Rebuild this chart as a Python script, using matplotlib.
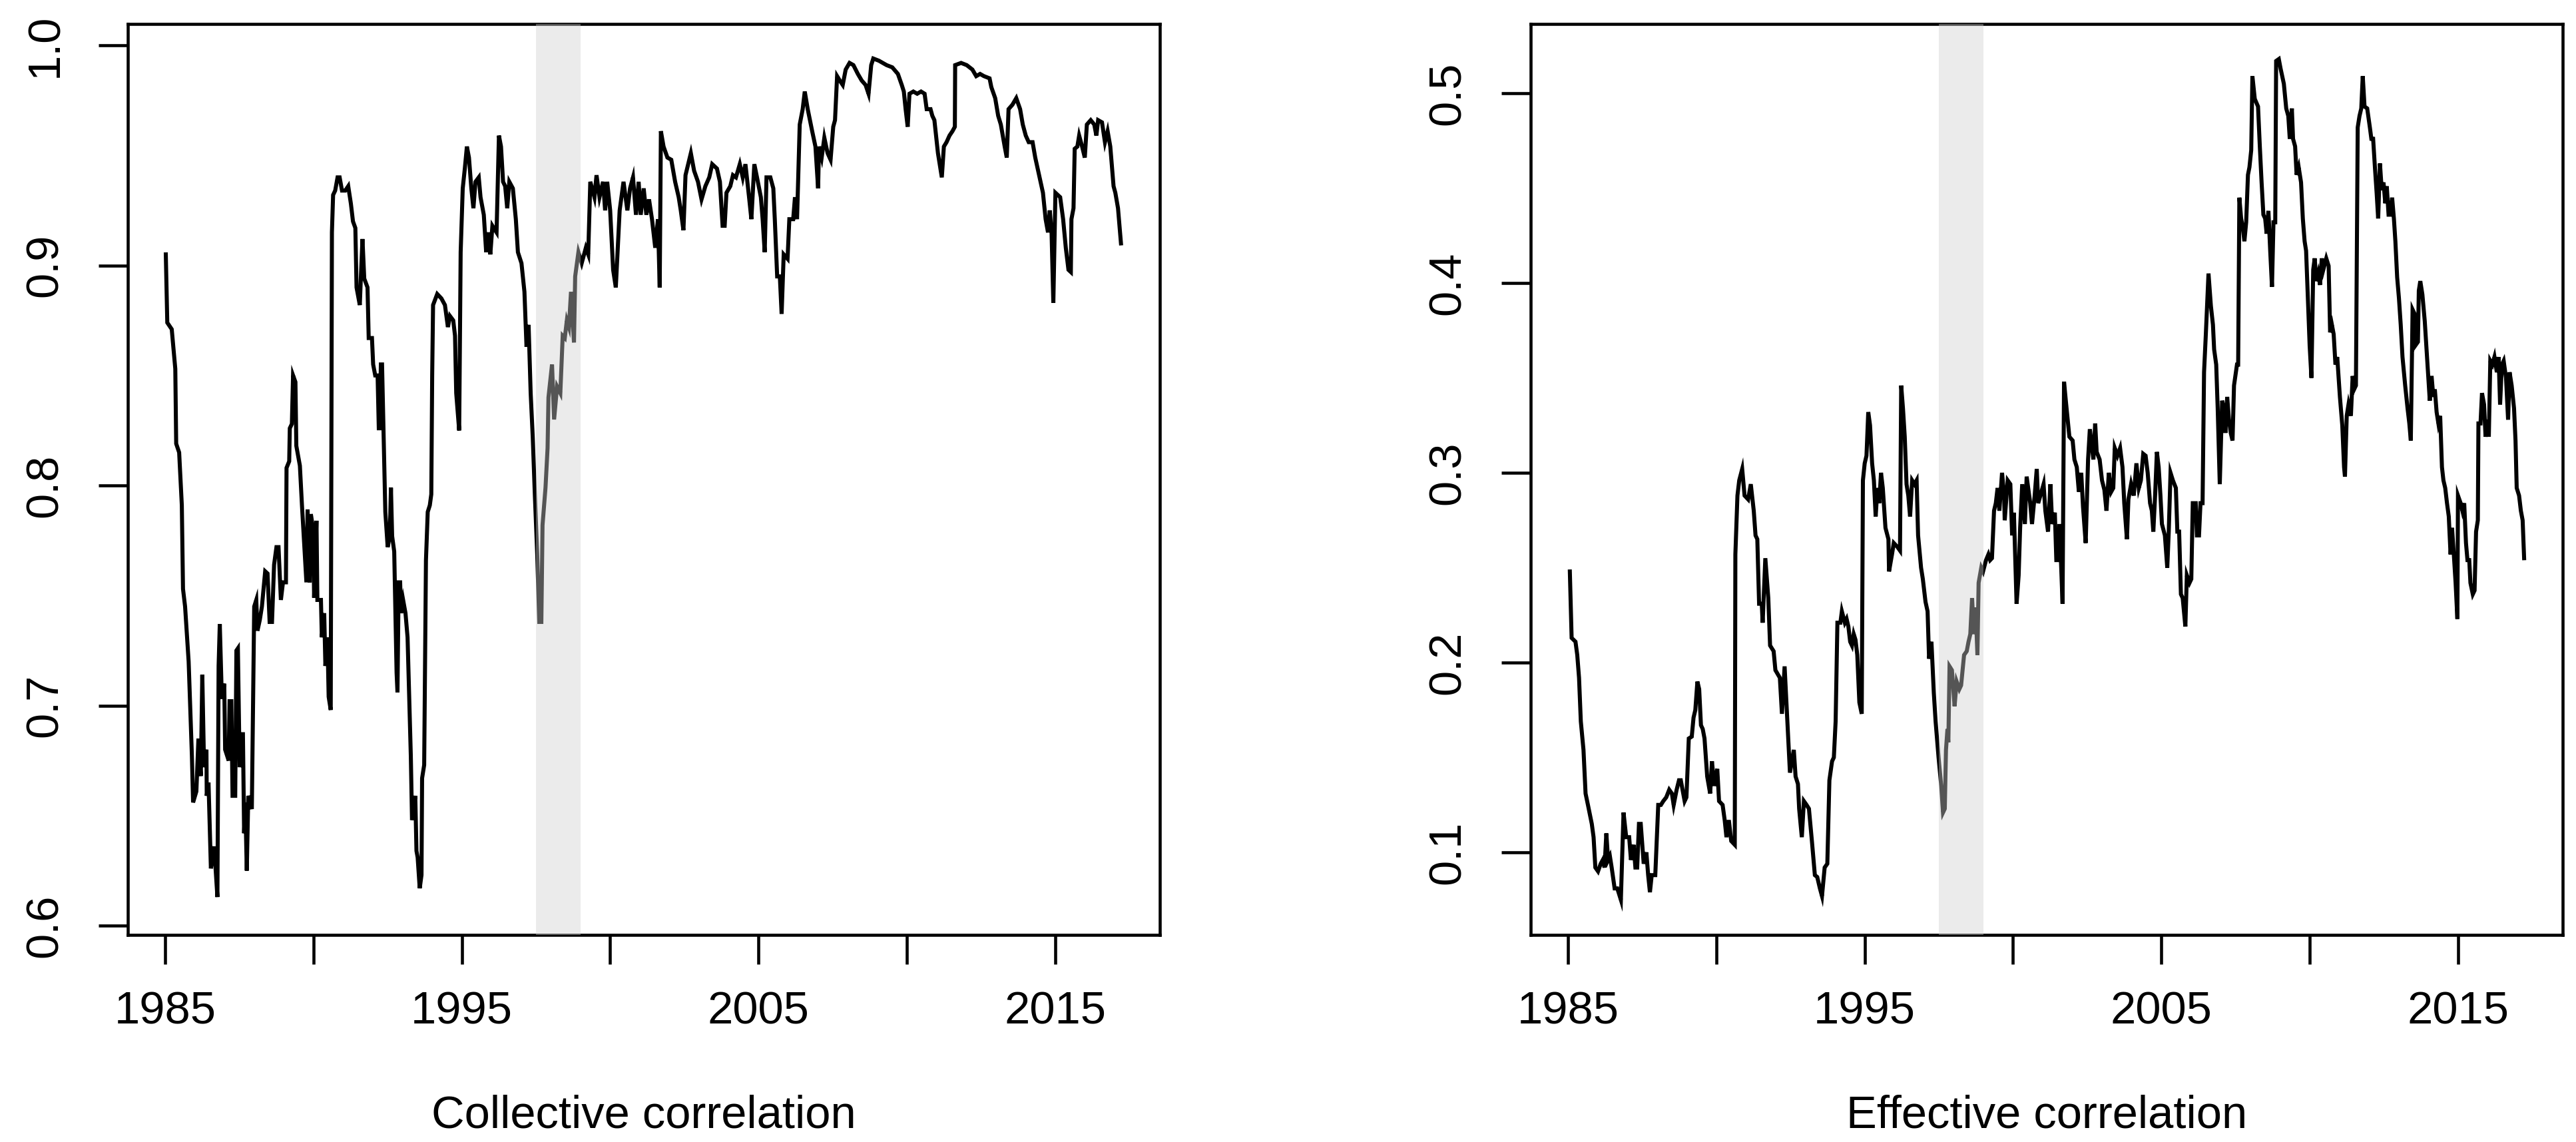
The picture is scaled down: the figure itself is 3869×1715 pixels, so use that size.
import numpy as np
import matplotlib
matplotlib.use("Agg")
import matplotlib.pyplot as plt

plt.rcParams['font.family'] = ['Liberation Sans', 'DejaVu Sans']

# Collective correlation
coll_year = [
    1985.02, 1985.07, 1985.22, 1985.34, 1985.37, 1985.47, 1985.56, 1985.60, 1985.67, 1985.79,
    1985.90, 1985.94, 1986.05, 1986.12, 1986.20, 1986.25, 1986.31, 1986.39, 1986.40, 1986.46,
    1986.54, 1986.65, 1986.76, 1986.80, 1986.84, 1986.91, 1986.99, 1987.02, 1987.14, 1987.17,
    1987.23, 1987.27, 1987.36, 1987.40, 1987.45, 1987.51, 1987.57, 1987.62, 1987.66, 1987.70,
    1987.75, 1987.80, 1987.92, 1988.00, 1988.07, 1988.11, 1988.19, 1988.26, 1988.37, 1988.45,
    1988.52, 1988.60, 1988.67, 1988.75, 1988.82, 1988.90, 1988.97, 1989.07, 1989.09, 1989.18,
    1989.20, 1989.27, 1989.31, 1989.39, 1989.42, 1989.54, 1989.61, 1989.76, 1989.80, 1989.87,
    1989.91, 1989.99, 1990.02, 1990.10, 1990.13, 1990.25, 1990.28, 1990.36, 1990.40, 1990.47,
    1990.51, 1990.58, 1990.62, 1990.66, 1990.73, 1990.81, 1990.88, 1990.96, 1991.07, 1991.17,
    1991.26, 1991.33, 1991.41, 1991.45, 1991.56, 1991.60, 1991.65, 1991.71, 1991.82, 1991.86,
    1991.97, 1992.01, 1992.08, 1992.16, 1992.20, 1992.23, 1992.27, 1992.31, 1992.42, 1992.50,
    1992.57, 1992.61, 1992.65, 1992.72, 1992.80, 1992.83, 1992.87, 1992.92, 1992.95, 1993.02,
    1993.10, 1993.17, 1993.28, 1993.32, 1993.43, 1993.47, 1993.51, 1993.58, 1993.64, 1993.66,
    1993.73, 1993.79, 1993.85, 1993.92, 1993.97, 1994.00, 1994.03, 1994.17, 1994.31, 1994.43,
    1994.53, 1994.60, 1994.71, 1994.77, 1994.81, 1994.91, 1994.96, 1995.03, 1995.10, 1995.17,
    1995.24, 1995.32, 1995.39, 1995.46, 1995.57, 1995.63, 1995.74, 1995.82, 1995.89, 1995.96,
    1996.03, 1996.17, 1996.25, 1996.32, 1996.39, 1996.46, 1996.53, 1996.60, 1996.72, 1996.82,
    1996.89, 1997.01, 1997.11, 1997.18, 1997.25, 1997.32, 1997.39, 1997.46, 1997.54, 1997.61,
    1997.68, 1997.72, 1997.82, 1997.89, 1997.92, 1998.04, 1998.11, 1998.21, 1998.32, 1998.40,
    1998.47, 1998.54, 1998.61, 1998.68, 1998.78, 1998.82, 1998.93, 1999.04, 1999.18, 1999.26,
    1999.33, 1999.47, 1999.54, 1999.64, 1999.76, 1999.83, 1999.90, 2000.00, 2000.10, 2000.19,
    2000.32, 2000.45, 2000.58, 2000.67, 2000.77, 2000.87, 2000.96, 2001.03, 2001.13, 2001.22,
    2001.31, 2001.41, 2001.52, 2001.61, 2001.67, 2001.71, 2001.80, 2001.93, 2002.06, 2002.19,
    2002.31, 2002.38, 2002.47, 2002.54, 2002.63, 2002.72, 2002.83, 2002.96, 2003.08, 2003.21,
    2003.34, 2003.44, 2003.60, 2003.70, 2003.79, 2003.86, 2003.92, 2004.05, 2004.14, 2004.24,
    2004.37, 2004.47, 2004.56, 2004.69, 2004.76, 2004.86, 2004.95, 2005.08, 2005.14, 2005.21,
    2005.27, 2005.40, 2005.50, 2005.55, 2005.63, 2005.72, 2005.78, 2005.85, 2005.98, 2006.04,
    2006.17, 2006.23, 2006.30, 2006.39, 2006.49, 2006.56, 2006.66, 2006.81, 2006.92, 2007.01,
    2007.04, 2007.13, 2007.22, 2007.33, 2007.43, 2007.52, 2007.58, 2007.65, 2007.74, 2007.84,
    2007.94, 2008.07, 2008.20, 2008.35, 2008.48, 2008.61, 2008.71, 2008.80, 2008.87, 2009.06,
    2009.32, 2009.51, 2009.70, 2009.83, 2009.90, 2009.96, 2010.03, 2010.09, 2010.22, 2010.35,
    2010.48, 2010.60, 2010.67, 2010.80, 2010.86, 2010.93, 2011.05, 2011.18, 2011.25, 2011.34,
    2011.44, 2011.54, 2011.62, 2011.63, 2011.83, 2012.02, 2012.21, 2012.34, 2012.47, 2012.60,
    2012.79, 2012.85, 2012.98, 2013.08, 2013.17, 2013.30, 2013.37, 2013.43, 2013.56, 2013.69,
    2013.82, 2013.91, 2014.01, 2014.11, 2014.24, 2014.33, 2014.46, 2014.59, 2014.68, 2014.76,
    2014.82, 2014.88, 2014.94, 2015.01, 2015.17, 2015.27, 2015.36, 2015.45, 2015.53, 2015.55,
    2015.62, 2015.66, 2015.75, 2015.81, 2015.91, 2016.00, 2016.07, 2016.20, 2016.32, 2016.39,
    2016.45, 2016.58, 2016.68, 2016.77, 2016.86, 2016.97, 2017.03, 2017.12, 2017.22,
]
coll_val = [
    0.905, 0.874, 0.871, 0.853, 0.819, 0.815, 0.791, 0.753, 0.745, 0.720,
    0.677, 0.656, 0.661, 0.685, 0.668, 0.714, 0.672, 0.680, 0.659, 0.665,
    0.626, 0.636, 0.613, 0.718, 0.737, 0.703, 0.710, 0.680, 0.675, 0.702,
    0.702, 0.659, 0.659, 0.725, 0.726, 0.672, 0.687, 0.687, 0.642, 0.656,
    0.625, 0.659, 0.653, 0.745, 0.748, 0.734, 0.739, 0.745, 0.761, 0.760,
    0.738, 0.738, 0.764, 0.772, 0.772, 0.748, 0.756, 0.756, 0.808, 0.811,
    0.826, 0.828, 0.850, 0.847, 0.818, 0.809, 0.791, 0.756, 0.789, 0.756,
    0.787, 0.780, 0.749, 0.784, 0.748, 0.748, 0.731, 0.742, 0.718, 0.731,
    0.704, 0.698, 0.915, 0.932, 0.934, 0.940, 0.940, 0.934, 0.934, 0.936,
    0.928, 0.920, 0.917, 0.890, 0.882, 0.896, 0.912, 0.894, 0.890, 0.867,
    0.867, 0.855, 0.850, 0.850, 0.826, 0.826, 0.855, 0.855, 0.788, 0.772,
    0.777, 0.799, 0.777, 0.770, 0.715, 0.706, 0.756, 0.756, 0.742, 0.748,
    0.742, 0.731, 0.677, 0.648, 0.659, 0.634, 0.631, 0.617, 0.623, 0.667,
    0.673, 0.766, 0.788, 0.791, 0.796, 0.850, 0.882, 0.887, 0.885, 0.882,
    0.872, 0.877, 0.875, 0.868, 0.842, 0.825, 0.906, 0.935, 0.944, 0.954,
    0.949, 0.935, 0.926, 0.938, 0.940, 0.931, 0.923, 0.906, 0.915, 0.905,
    0.918, 0.915, 0.959, 0.954, 0.938, 0.936, 0.926, 0.938, 0.935, 0.921,
    0.906, 0.901, 0.888, 0.863, 0.873, 0.842, 0.822, 0.796, 0.769, 0.738,
    0.738, 0.782, 0.799, 0.817, 0.840, 0.855, 0.830, 0.845, 0.842, 0.868,
    0.867, 0.875, 0.872, 0.888, 0.865, 0.895, 0.906, 0.901, 0.908, 0.905,
    0.938, 0.931, 0.941, 0.931, 0.938, 0.925, 0.938, 0.925, 0.898, 0.890,
    0.925, 0.938, 0.925, 0.935, 0.940, 0.923, 0.938, 0.923, 0.935, 0.923,
    0.930, 0.921, 0.908, 0.921, 0.890, 0.961, 0.954, 0.949, 0.948, 0.938,
    0.931, 0.925, 0.916, 0.941, 0.946, 0.951, 0.943, 0.938, 0.930, 0.936,
    0.940, 0.946, 0.944, 0.938, 0.918, 0.918, 0.933, 0.936, 0.941, 0.940,
    0.946, 0.940, 0.946, 0.930, 0.921, 0.946, 0.940, 0.931, 0.921, 0.906,
    0.940, 0.940, 0.935, 0.921, 0.895, 0.895, 0.878, 0.905, 0.903, 0.921,
    0.921, 0.931, 0.921, 0.964, 0.971, 0.979, 0.971, 0.961, 0.954, 0.935,
    0.954, 0.949, 0.958, 0.951, 0.948, 0.963, 0.966, 0.986, 0.984, 0.982,
    0.989, 0.992, 0.991, 0.987, 0.984, 0.982, 0.978, 0.991, 0.994, 0.993,
    0.991, 0.990, 0.987, 0.982, 0.979, 0.971, 0.963, 0.978, 0.979, 0.978,
    0.979, 0.978, 0.971, 0.971, 0.968, 0.966, 0.951, 0.940, 0.954, 0.956,
    0.959, 0.961, 0.963, 0.991, 0.992, 0.991, 0.989, 0.986, 0.987, 0.986,
    0.985, 0.981, 0.976, 0.968, 0.964, 0.954, 0.949, 0.971, 0.973, 0.976,
    0.971, 0.964, 0.959, 0.956, 0.956, 0.949, 0.941, 0.933, 0.921, 0.915,
    0.925, 0.915, 0.883, 0.933, 0.931, 0.921, 0.908, 0.898, 0.897, 0.921,
    0.926, 0.953, 0.954, 0.959, 0.954, 0.949, 0.964, 0.966, 0.964, 0.959,
    0.966, 0.965, 0.956, 0.961, 0.954, 0.936, 0.933, 0.926, 0.910,
]

# Effective correlation
eff_year = [
    1985.06, 1985.12, 1985.25, 1985.31, 1985.37, 1985.43, 1985.52, 1985.59, 1985.67, 1985.80,
    1985.86, 1985.92, 1986.01, 1986.10, 1986.17, 1986.23, 1986.29, 1986.35, 1986.41, 1986.47,
    1986.57, 1986.66, 1986.78, 1986.87, 1986.96, 1987.06, 1987.12, 1987.21, 1987.27, 1987.33,
    1987.39, 1987.45, 1987.55, 1987.64, 1987.70, 1987.76, 1987.82, 1987.94, 1988.04, 1988.13,
    1988.21, 1988.31, 1988.41, 1988.50, 1988.56, 1988.66, 1988.74, 1988.80, 1988.93, 1988.99,
    1989.07, 1989.17, 1989.23, 1989.29, 1989.36, 1989.42, 1989.48, 1989.54, 1989.60, 1989.69,
    1989.79, 1989.85, 1989.93, 1990.03, 1990.09, 1990.21, 1990.28, 1990.34, 1990.42, 1990.50,
    1990.62, 1990.64, 1990.71, 1990.77, 1990.87, 1990.95, 1991.07, 1991.16, 1991.26, 1991.32,
    1991.38, 1991.44, 1991.53, 1991.56, 1991.65, 1991.75, 1991.81, 1991.93, 1991.99, 1992.14,
    1992.21, 1992.30, 1992.42, 1992.48, 1992.61, 1992.67, 1992.75, 1992.79, 1992.88, 1992.95,
    1993.04, 1993.12, 1993.22, 1993.32, 1993.40, 1993.49, 1993.56, 1993.65, 1993.74, 1993.81,
    1993.90, 1993.96, 1994.02, 1994.08, 1994.18, 1994.23, 1994.33, 1994.39, 1994.45, 1994.51,
    1994.57, 1994.63, 1994.69, 1994.75, 1994.82, 1994.90, 1994.94, 1995.00, 1995.06, 1995.12,
    1995.18, 1995.25, 1995.31, 1995.37, 1995.43, 1995.49, 1995.55, 1995.61, 1995.70, 1995.80,
    1995.82, 1995.92, 1995.98, 1996.10, 1996.19, 1996.23, 1996.29, 1996.35, 1996.41, 1996.47,
    1996.53, 1996.60, 1996.68, 1996.75, 1996.80, 1996.90, 1996.96, 1997.05, 1997.12, 1997.17,
    1997.25, 1997.33, 1997.39, 1997.49, 1997.58, 1997.64, 1997.70, 1997.74, 1997.79, 1997.82,
    1997.86, 1997.94, 1998.03, 1998.10, 1998.19, 1998.25, 1998.35, 1998.44, 1998.50, 1998.56,
    1998.62, 1998.68, 1998.74, 1998.80, 1998.84, 1998.93, 1998.99, 1999.09, 1999.17, 1999.23,
    1999.29, 1999.36, 1999.42, 1999.48, 1999.54, 1999.63, 1999.70, 1999.72, 1999.82, 1999.91,
    1999.97, 2000.03, 2000.12, 2000.19, 2000.24, 2000.31, 2000.40, 2000.46, 2000.58, 2000.64,
    2000.73, 2000.80, 2000.85, 2001.03, 2001.09, 2001.18, 2001.26, 2001.32, 2001.41, 2001.46,
    2001.53, 2001.57, 2001.67, 2001.72, 2001.78, 2001.90, 2002.01, 2002.07, 2002.15, 2002.22,
    2002.30, 2002.36, 2002.45, 2002.53, 2002.59, 2002.65, 2002.71, 2002.77, 2002.82, 2002.92,
    2003.00, 2003.08, 2003.15, 2003.23, 2003.31, 2003.38, 2003.43, 2003.52, 2003.61, 2003.69,
    2003.75, 2003.84, 2003.89, 2003.98, 2004.07, 2004.16, 2004.24, 2004.31, 2004.39, 2004.47,
    2004.54, 2004.62, 2004.68, 2004.73, 2004.79, 2004.85, 2004.91, 2004.97, 2005.02, 2005.12,
    2005.20, 2005.25, 2005.31, 2005.39, 2005.49, 2005.54, 2005.60, 2005.66, 2005.72, 2005.81,
    2005.86, 2005.95, 2006.01, 2006.06, 2006.16, 2006.20, 2006.27, 2006.32, 2006.39, 2006.44,
    2006.50, 2006.59, 2006.67, 2006.74, 2006.78, 2006.85, 2006.90, 2006.97, 2007.05, 2007.11,
    2007.16, 2007.22, 2007.28, 2007.34, 2007.40, 2007.45, 2007.55, 2007.59, 2007.63, 2007.69,
    2007.74, 2007.80, 2007.86, 2007.92, 2007.97, 2008.03, 2008.07, 2008.15, 2008.26, 2008.32,
    2008.38, 2008.44, 2008.50, 2008.55, 2008.61, 2008.67, 2008.73, 2008.78, 2008.84, 2008.87,
    2008.96, 2009.02, 2009.13, 2009.21, 2009.28, 2009.33, 2009.40, 2009.44, 2009.51, 2009.56,
    2009.63, 2009.71, 2009.77, 2009.83, 2009.88, 2009.94, 2010.00, 2010.06, 2010.12, 2010.17,
    2010.23, 2010.29, 2010.35, 2010.41, 2010.46, 2010.56, 2010.64, 2010.69, 2010.75, 2010.81,
    2010.87, 2010.93, 2011.02, 2011.10, 2011.16, 2011.19, 2011.25, 2011.31, 2011.39, 2011.45,
    2011.50, 2011.56, 2011.62, 2011.68, 2011.74, 2011.79, 2011.85, 2011.94, 2012.03, 2012.08,
    2012.14, 2012.20, 2012.26, 2012.31, 2012.37, 2012.43, 2012.49, 2012.55, 2012.60, 2012.66,
    2012.72, 2012.78, 2012.84, 2012.89, 2012.95, 2013.01, 2013.07, 2013.13, 2013.22, 2013.30,
    2013.36, 2013.41, 2013.47, 2013.53, 2013.56, 2013.65, 2013.68, 2013.73, 2013.80, 2013.88,
    2013.94, 2013.99, 2014.05, 2014.11, 2014.17, 2014.22, 2014.28, 2014.34, 2014.40, 2014.46,
    2014.51, 2014.57, 2014.63, 2014.69, 2014.75, 2014.80, 2014.86, 2014.92, 2014.98, 2015.00,
    2015.09, 2015.15, 2015.21, 2015.27, 2015.32, 2015.38, 2015.42, 2015.50, 2015.56, 2015.61,
    2015.67, 2015.69, 2015.76, 2015.81, 2015.88, 2015.93, 2016.00, 2016.04, 2016.09, 2016.16,
    2016.23, 2016.31, 2016.37, 2016.42, 2016.48, 2016.54, 2016.62, 2016.69, 2016.74, 2016.81,
    2016.89, 2016.94, 2016.98, 2017.06, 2017.12, 2017.18, 2017.23,
]
eff_val = [
    0.248, 0.213, 0.211, 0.204, 0.192, 0.169, 0.154, 0.131, 0.125, 0.115,
    0.108, 0.092, 0.090, 0.094, 0.096, 0.092, 0.110, 0.096, 0.098, 0.092,
    0.081, 0.081, 0.075, 0.121, 0.108, 0.108, 0.096, 0.104, 0.092, 0.092,
    0.115, 0.115, 0.094, 0.100, 0.088, 0.079, 0.088, 0.088, 0.125, 0.125,
    0.127, 0.129, 0.133, 0.131, 0.125, 0.133, 0.138, 0.138, 0.127, 0.129,
    0.160, 0.161, 0.171, 0.175, 0.190, 0.186, 0.167, 0.165, 0.160, 0.140,
    0.131, 0.148, 0.135, 0.144, 0.127, 0.125, 0.117, 0.108, 0.117, 0.106,
    0.104, 0.257, 0.288, 0.296, 0.302, 0.288, 0.286, 0.294, 0.280, 0.267,
    0.265, 0.231, 0.231, 0.221, 0.255, 0.234, 0.209, 0.206, 0.196, 0.192,
    0.173, 0.198, 0.161, 0.142, 0.154, 0.140, 0.136, 0.123, 0.108, 0.127,
    0.125, 0.123, 0.106, 0.088, 0.087, 0.081, 0.077, 0.092, 0.094, 0.138,
    0.148, 0.150, 0.169, 0.221, 0.221, 0.227, 0.221, 0.223, 0.219, 0.211,
    0.209, 0.215, 0.212, 0.204, 0.179, 0.173, 0.296, 0.305, 0.309, 0.332,
    0.325, 0.305, 0.296, 0.277, 0.292, 0.284, 0.300, 0.292, 0.271, 0.265,
    0.248, 0.257, 0.263, 0.261, 0.259, 0.346, 0.334, 0.319, 0.294, 0.288,
    0.277, 0.296, 0.294, 0.296, 0.267, 0.250, 0.244, 0.232, 0.227, 0.202,
    0.211, 0.184, 0.169, 0.150, 0.135, 0.121, 0.123, 0.154, 0.165, 0.158,
    0.198, 0.196, 0.177, 0.190, 0.186, 0.188, 0.204, 0.206, 0.211, 0.215,
    0.234, 0.215, 0.229, 0.204, 0.242, 0.250, 0.248, 0.254, 0.257, 0.254,
    0.255, 0.280, 0.284, 0.292, 0.280, 0.300, 0.288, 0.275, 0.296, 0.294,
    0.267, 0.279, 0.231, 0.246, 0.271, 0.294, 0.273, 0.298, 0.284, 0.273,
    0.288, 0.302, 0.284, 0.294, 0.280, 0.269, 0.294, 0.273, 0.279, 0.254,
    0.254, 0.273, 0.231, 0.348, 0.338, 0.319, 0.317, 0.307, 0.303, 0.290,
    0.300, 0.282, 0.263, 0.307, 0.323, 0.315, 0.307, 0.326, 0.311, 0.307,
    0.296, 0.291, 0.280, 0.300, 0.290, 0.292, 0.313, 0.309, 0.313, 0.303,
    0.284, 0.265, 0.286, 0.294, 0.288, 0.305, 0.292, 0.296, 0.310, 0.309,
    0.300, 0.284, 0.280, 0.269, 0.288, 0.311, 0.303, 0.288, 0.273, 0.267,
    0.250, 0.269, 0.300, 0.296, 0.292, 0.269, 0.269, 0.236, 0.234, 0.219,
    0.246, 0.242, 0.244, 0.284, 0.284, 0.267, 0.267, 0.284, 0.284, 0.353,
    0.373, 0.405, 0.388, 0.378, 0.365, 0.357, 0.334, 0.294, 0.338, 0.334,
    0.321, 0.340, 0.328, 0.321, 0.317, 0.346, 0.357, 0.357, 0.445, 0.434,
    0.430, 0.422, 0.432, 0.457, 0.461, 0.470, 0.509, 0.497, 0.493, 0.472,
    0.453, 0.436, 0.434, 0.426, 0.438, 0.417, 0.398, 0.432, 0.432, 0.517,
    0.518, 0.513, 0.505, 0.492, 0.488, 0.476, 0.492, 0.476, 0.472, 0.457,
    0.461, 0.453, 0.434, 0.422, 0.417, 0.392, 0.367, 0.350, 0.407, 0.413,
    0.401, 0.405, 0.399, 0.413, 0.407, 0.413, 0.409, 0.374, 0.378, 0.373,
    0.357, 0.361, 0.340, 0.325, 0.303, 0.298, 0.330, 0.336, 0.330, 0.351,
    0.344, 0.346, 0.482, 0.488, 0.492, 0.509, 0.493, 0.492, 0.482, 0.476,
    0.476, 0.461, 0.447, 0.434, 0.463, 0.449, 0.453, 0.442, 0.451, 0.436,
    0.436, 0.445, 0.434, 0.422, 0.403, 0.392, 0.378, 0.361, 0.346, 0.334,
    0.326, 0.317, 0.386, 0.384, 0.367, 0.369, 0.396, 0.401, 0.394, 0.380,
    0.365, 0.353, 0.338, 0.351, 0.340, 0.344, 0.332, 0.326, 0.330, 0.303,
    0.296, 0.292, 0.284, 0.277, 0.257, 0.271, 0.257, 0.242, 0.223, 0.288,
    0.284, 0.280, 0.284, 0.263, 0.254, 0.254, 0.242, 0.236, 0.238, 0.269,
    0.275, 0.326, 0.326, 0.342, 0.336, 0.319, 0.328, 0.319, 0.359, 0.357,
    0.361, 0.353, 0.361, 0.336, 0.357, 0.359, 0.350, 0.328, 0.353, 0.346,
    0.334, 0.317, 0.292, 0.288, 0.280, 0.275, 0.255,
]

crisis = (1997.5, 1999.0)
xticks = [1985, 1990, 1995, 2000, 2005, 2010, 2015]
xtick_labels = ['1985', '', '1995', '', '2005', '', '2015']

panels = [
    (coll_year, coll_val, [0.6, 0.7, 0.8, 0.9, 1.0], (0.5958, 1.0097), 'Collective correlation'),
    (eff_year, eff_val, [0.1, 0.2, 0.3, 0.4, 0.5], (0.0565, 0.5365), 'Effective correlation'),
]

W, H = 3869, 1715
fig = plt.figure(figsize=(W / 300, H / 300), dpi=300)
lefts = [192 / W, 2299 / W]
fs = 16.5

for left, (yrs, vals, yt, ylim, label) in zip(lefts, panels):
    ax = fig.add_axes([left, 1 - 1404 / H, 1550 / W, (1404 - 36) / H])
    ax.plot(yrs, vals, color='black', lw=1.45, solid_joinstyle='miter', zorder=2)
    # light band drawn over the line, as in the original
    ax.axvspan(*crisis, color=(0.81, 0.81, 0.81), alpha=0.41, lw=0, zorder=3)
    ax.set_xlim(1983.74, 2018.53)
    ax.set_ylim(*ylim)
    ax.set_xticks(xticks)
    ax.set_xticklabels(xtick_labels)
    ax.set_yticks(yt)
    ax.set_yticklabels([f'{v:.1f}' for v in yt])
    for s in ax.spines.values():
        s.set_linewidth(1.1)
    ax.tick_params(axis='both', length=10.5, width=1.1, labelsize=fs, direction='out')
    ax.tick_params(axis='x', pad=9.5)
    ax.tick_params(axis='y', pad=11.5)
    plt.setp(ax.get_yticklabels(), rotation=90, va='center', ha='right')
    x0, x1 = left, left + 1550 / W
    fig.text((x0 + x1) / 2, 1 - 1675 / H, label, ha='center', va='center', fontsize=fs)

fig.savefig('out.png', dpi=300, facecolor='white')
